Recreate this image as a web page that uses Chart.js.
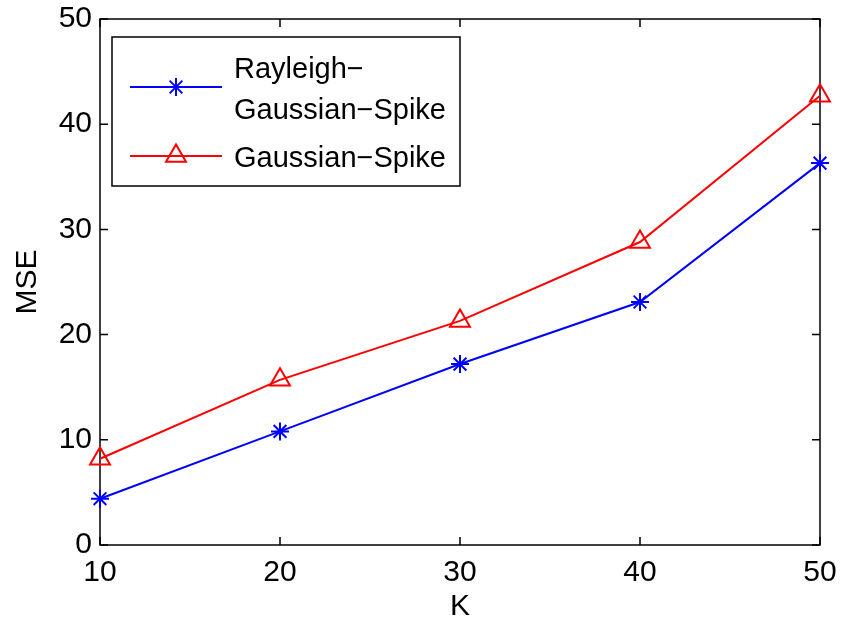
<!DOCTYPE html>
<html>
<head>
<meta charset="utf-8">
<script src="https://cdn.jsdelivr.net/npm/chart.js@4.4.1/dist/chart.umd.min.js"></script>
<style>
  html, body { margin: 0; padding: 0; background: #fff; }
  #wrap { width: 843px; height: 632px; }
</style>
</head>
<body>
<div id="wrap"><canvas id="mseChart" width="843" height="632"></canvas></div>
<script>
var kValues = [10, 20, 30, 40, 50];
var rgsMse = [4.4, 10.8, 17.2, 23.1, 36.3];
var gsMse = [8.2, 15.7, 21.3, 28.8, 42.7];
var seriesNames = [["Rayleigh\u2212", "Gaussian\u2212Spike"], ["Gaussian\u2212Spike"]];
var yTicks = [0, 10, 20, 30, 40, 50];

var FONT = "'Liberation Sans', Arial, sans-serif";

function toPoints(xs, ys) {
    return xs.map(function (x, i) { return { x: x, y: ys[i] }; });
}

// box round the plot with inward ticks on all four sides
var boxPlugin = {
    id: 'box',
    beforeDatasetsDraw: function (chart) {
        var ctx = chart.ctx, a = chart.chartArea;
        var xs = chart.scales.x, ys = chart.scales.y;
        var len = 8;
        ctx.save();
        ctx.strokeStyle = '#000';
        ctx.lineWidth = 1.5;
        ctx.strokeRect(a.left, a.top, a.right - a.left, a.bottom - a.top);
        ctx.beginPath();
        kValues.forEach(function (v) {
            var px = xs.getPixelForValue(v);
            ctx.moveTo(px, a.bottom); ctx.lineTo(px, a.bottom - len);
            ctx.moveTo(px, a.top); ctx.lineTo(px, a.top + len);
        });
        yTicks.forEach(function (v) {
            var py = ys.getPixelForValue(v);
            ctx.moveTo(a.left, py); ctx.lineTo(a.left + len, py);
            ctx.moveTo(a.right, py); ctx.lineTo(a.right - len, py);
        });
        ctx.stroke();
        ctx.restore();
    }
};

// matlab style legend box, with a two line label
var legendPlugin = {
    id: 'boxLegend',
    afterDraw: function (chart) {
        var ctx = chart.ctx, a = chart.chartArea;
        var bx = a.left + 12, by = a.top + 18, bw = 348, bh = 149;
        ctx.save();
        ctx.fillStyle = '#fff';
        ctx.fillRect(bx, by, bw, bh);
        ctx.strokeStyle = '#000';
        ctx.lineWidth = 1.5;
        ctx.strokeRect(bx, by, bw, bh);
        var rows = [
            { ds: chart.data.datasets[0], lineY: by + 50, textY: [by + 33, by + 74] },
            { ds: chart.data.datasets[1], lineY: by + 119, textY: [by + 122] }
        ];
        ctx.font = '29px ' + FONT;
        ctx.textBaseline = 'middle';
        ctx.textAlign = 'left';
        rows.forEach(function (r, i) {
            ctx.strokeStyle = r.ds.borderColor;
            ctx.lineWidth = 2;
            ctx.beginPath();
            ctx.moveTo(bx + 18, r.lineY);
            ctx.lineTo(bx + 110, r.lineY);
            ctx.stroke();
            ctx.fillStyle = 'rgba(0,0,0,0)';
            Chart.helpers.drawPoint(ctx, {
                pointStyle: r.ds.pointStyle,
                radius: r.ds.pointRadius,
                borderWidth: r.ds.pointBorderWidth,
                rotation: 0
            }, bx + 64, r.lineY);
            ctx.fillStyle = '#000';
            seriesNames[i].forEach(function (t, j) {
                ctx.fillText(t, bx + 122, r.textY[j]);
            });
        });
        ctx.restore();
    }
};

new Chart(document.getElementById('mseChart'), {
    type: 'line',
    data: {
        datasets: [{
            label: seriesNames[0].join(''),
            data: toPoints(kValues, rgsMse),
            borderColor: '#0000ff',
            backgroundColor: '#0000ff',
            borderWidth: 2,
            pointStyle: 'star',
            pointRadius: 9,
            pointBorderWidth: 2,
            pointBorderColor: '#0000ff',
            tension: 0,
            clip: false
        }, {
            label: seriesNames[1].join(''),
            data: toPoints(kValues, gsMse),
            borderColor: '#ff0000',
            backgroundColor: 'rgba(0,0,0,0)',
            borderWidth: 2,
            pointStyle: 'triangle',
            pointRadius: 11.5,
            pointBorderWidth: 2,
            pointBorderColor: '#ff0000',
            tension: 0,
            clip: false
        }]
    },
    options: {
        responsive: false,
        animation: false,
        layout: { padding: { top: 19, right: 23, left: 0, bottom: 0 } },
        plugins: { legend: { display: false }, tooltip: { enabled: false } },
        scales: {
            x: {
                type: 'linear', min: 10, max: 50,
                grid: { display: false },
                border: { display: false },
                ticks: { stepSize: 10, color: '#000', padding: 2, font: { family: FONT, size: 30 } },
                title: { display: true, text: 'K', color: '#000', padding: { top: 0, bottom: 7 }, font: { family: FONT, size: 30 } },
                afterFit: function (s) { s.height = 87; }
            },
            y: {
                min: 0, max: 50,
                grid: { display: false },
                border: { display: false },
                ticks: { stepSize: 10, color: '#000', padding: 0, font: { family: FONT, size: 30 } },
                title: { display: true, text: 'MSE', color: '#000', padding: { top: 10, bottom: 0 }, font: { family: FONT, size: 30 } },
                afterFit: function (s) { s.width = 100; }
            }
        }
    },
    plugins: [boxPlugin, legendPlugin]
});
</script>
</body>
</html>
